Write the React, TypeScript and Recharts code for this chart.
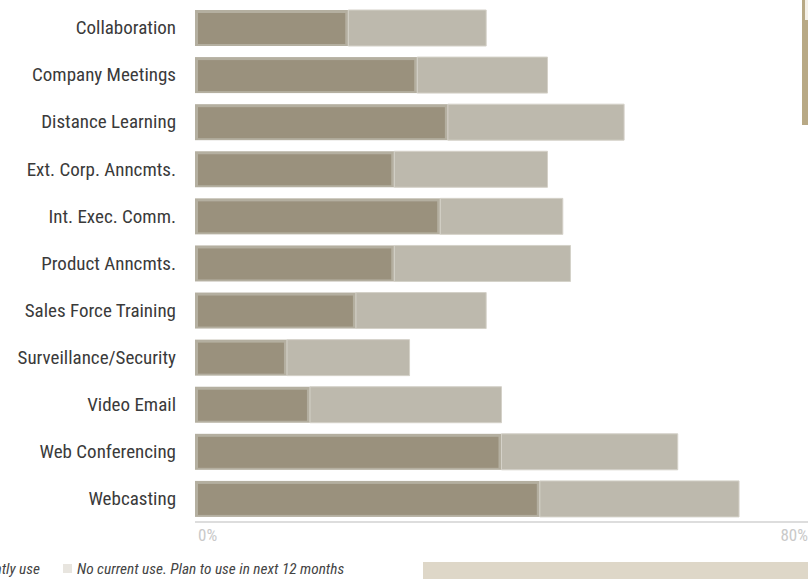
import React from "react";
import { BarChart, Bar, XAxis, YAxis } from "recharts";

const categories = [
  "Collaboration",
  "Company Meetings",
  "Distance Learning",
  "Ext. Corp. Anncmts.",
  "Int. Exec. Comm.",
  "Product Anncmts.",
  "Sales Force Training",
  "Surveillance/Security",
  "Video Email",
  "Web Conferencing",
  "Webcasting",
];

// % currently using
const currentUse = [20, 29, 33, 26, 32, 26, 21, 12, 15, 40, 45];
// % not using now, planning to within 12 months
const planToUse = [18, 17, 23, 20, 16, 23, 17, 16, 25, 23, 26];

const xTicks = [0, 80];

const data = categories.map((name, i) => ({
  name,
  current: currentUse[i],
  planned: planToUse[i],
}));

const FONT = "'Liberation Sans Narrow', 'Roboto Condensed', Roboto, sans-serif";

const CurrentShape = (props: any) => {
  const { x, y, width, height } = props;
  return (
    <g>
      <rect x={x} y={y} width={width} height={height} fill="#b4afa0" />
      <rect
        x={x + 3}
        y={y + 3}
        width={Math.max(0, width - 6)}
        height={height - 5}
        fill="#9a917d"
      />
    </g>
  );
};

const XTick = (props: any) => {
  const { x, y, payload } = props;
  const isFirst = payload.value === xTicks[0];
  return (
    <text
      x={isFirst ? x + 3 : x}
      y={y + 17}
      textAnchor={isFirst ? "start" : "end"}
      fill="#c9c9c9"
      style={{ fontFamily: FONT, fontSize: 17 }}
    >
      {payload.value}%
    </text>
  );
};

const legendText: React.CSSProperties = {
  position: "absolute",
  top: 560,
  fontFamily: FONT,
  fontStyle: "italic",
  fontSize: 15.3,
  lineHeight: "18px",
  color: "#444",
  whiteSpace: "nowrap",
};

export default function App() {
  return (
    <div
      style={{
        position: "absolute",
        left: 0,
        top: 0,
        width: 808,
        height: 579,
        overflow: "hidden",
        background: "#fff",
      }}
    >
      <BarChart
        width={808}
        height={579}
        data={data}
        layout="vertical"
        margin={{ top: 4, right: 0, left: 0, bottom: 27 }}
        barCategoryGap={11}
      >
        <XAxis
          type="number"
          domain={[0, 80]}
          ticks={xTicks}
          tickLine={false}
          tickSize={0}
          axisLine={{ stroke: "#d2d2d2", strokeWidth: 1.5 }}
          tick={<XTick />}
          height={30}
          interval={0}
        />
        <YAxis
          type="category"
          dataKey="name"
          width={195}
          tickLine={false}
          axisLine={false}
          tickSize={0}
          tickMargin={19}
          interval={0}
          tick={{ fill: "#3a3a3a", fontSize: 19, fontFamily: FONT }}
        />
        <Bar
          dataKey="current"
          stackId="a"
          barSize={36}
          shape={<CurrentShape />}
          isAnimationActive={false}
        />
        <Bar
          dataKey="planned"
          stackId="a"
          barSize={36}
          fill="#bdb9ad"
          stroke="#d4d1c8"
          strokeWidth={1}
          isAnimationActive={false}
        />
      </BarChart>

      {/* legend, partly cut off at the left edge */}
      <div style={{ position: "absolute", left: -100, top: 564, width: 9, height: 9, background: "#9a917d" }} />
      <div style={{ ...legendText, right: 808 - 40 }}>Currently use</div>
      <div style={{ position: "absolute", left: 63, top: 564, width: 9, height: 9, background: "#e8e5df" }} />
      <div style={{ ...legendText, left: 77 }}>No current use. Plan to use in next 12 months</div>

      {/* page decorations cropped at the edges */}
      <div style={{ position: "absolute", left: 802, top: 0, width: 6, height: 125, background: "#b8a985" }} />
      <div style={{ position: "absolute", left: 805, top: 0, width: 3, height: 20, background: "#f4f0e8" }} />
      <div style={{ position: "absolute", left: 423, top: 562, width: 385, height: 17, background: "#ded7c8" }} />
    </div>
  );
}
